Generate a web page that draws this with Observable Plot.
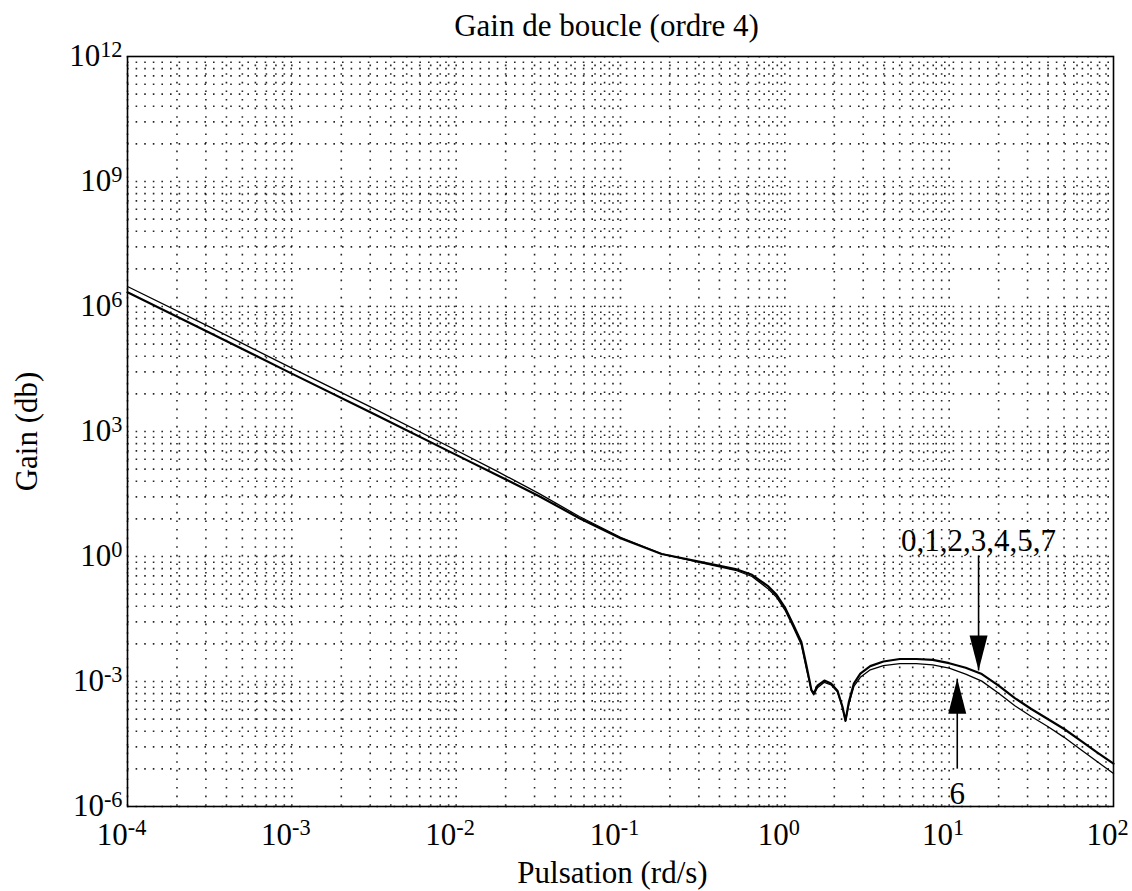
<!DOCTYPE html>
<html><head><meta charset="utf-8">
<script src="https://cdn.jsdelivr.net/npm/d3@7"></script>
<script src="https://cdn.jsdelivr.net/npm/@observablehq/plot@0.6"></script>
<style>body{margin:0;background:#fff}</style>
</head><body><div id="chart"></div>
<script>
// ---- data ----
const pulsation = [1e-4, 3.16e-4, 1e-3, 3.16e-3, 1e-2, 1.78e-2, 3.16e-2, 5.62e-2, 0.1, 0.178,
  0.316, 0.501, 0.631, 0.794, 0.891, 1, 1.12, 1.26, 1.35, 1.45,
  1.50, 1.58, 1.74, 1.91, 2.09, 2.24, 2.34, 2.45, 2.63, 2.88,
  3.31, 3.98, 5.01, 6.31, 7.94, 10, 12.6, 15.8, 20.0, 25.1,
  31.6, 39.8, 50.1, 63.1, 79.4, 100];
const gain_0123457 = [2.19e6, 2.34e5, 2.45e4, 2.63e3, 275, 89.1, 28.8, 8.32, 2.75, 1.15,
  0.724, 0.501, 0.363, 0.191, 0.120, 0.0603, 0.0240, 8.91e-3, 2.51e-3, 6.31e-4,
  5.13e-4, 7.94e-4, 1.05e-3, 8.91e-4, 6.03e-4, 2.51e-4, 1.15e-4, 3.16e-4, 8.91e-4, 1.55e-3,
  2.34e-3, 3.02e-3, 3.47e-3, 3.47e-3, 3.31e-3, 2.75e-3, 2.14e-3, 1.51e-3, 7.94e-4, 3.98e-4,
  2.19e-4, 1.26e-4, 7.24e-5, 3.80e-5, 2.00e-5, 1.07e-5];
const gain_6 = [3.02e6, 3.24e5, 3.31e4, 3.55e3, 355, 110, 33.1, 9.12, 2.88, 1.15,
  0.692, 0.468, 0.331, 0.166, 0.105, 0.0525, 0.0209, 7.59e-3, 2.09e-3, 6.03e-4,
  4.79e-4, 7.08e-4, 9.55e-4, 8.32e-4, 5.62e-4, 2.40e-4, 1.10e-4, 2.82e-4, 7.59e-4, 1.26e-3,
  1.91e-3, 2.40e-3, 2.69e-3, 2.69e-3, 2.51e-3, 2.09e-3, 1.51e-3, 1.02e-3, 5.25e-4, 2.63e-4,
  1.45e-4, 8.32e-5, 4.57e-5, 2.34e-5, 1.20e-5, 6.17e-6];

const xTicks = [1e-4, 1e-3, 1e-2, 1e-1, 1e0, 1e1, 1e2];
const yTicks = [1e-6, 1e-3, 1e0, 1e3, 1e6, 1e9, 1e12];
const xTickLabels = ["10^-4", "10^-3", "10^-2", "10^-1", "10^0", "10^1", "10^2"];
const yTickLabels = ["10^-6", "10^-3", "10^0", "10^3", "10^6", "10^9", "10^12"];

const title = "Gain de boucle (ordre 4)";
const xLabel = "Pulsation (rd/s)";
const yLabel = "Gain (db)";

const annotLabels = ["0,1,2,3,4,5,7", "6"];
const annotX = [15.1, 11.2];
const annotTip = [1.84e-3, 1.17e-3];
const annotTail = [1.06, 8.1e-6];
const annotText = [1.39, 3.8e-6];

// ---- tables ----
const lines = [
  ...pulsation.map((w, i) => ({w, g: gain_6[i], s: "6"})),
  ...pulsation.map((w, i) => ({w, g: gain_0123457[i], s: "0,1,2,3,4,5,7"}))
];
const annots = annotLabels.map((t, i) => ({t, x: annotX[i], tip: annotTip[i], tail: annotTail[i], ty: annotText[i]}));

// grid: x decades with minor 2..9; y bands of three decades with log-spaced minors
const xGrid = [];
for (let i = 0; i < xTicks.length - 1; i++) for (let m = 1; m <= 9; m++) xGrid.push(xTicks[i] * m);
const yGrid = [];
for (let i = 0; i < yTicks.length - 1; i++) for (let m = 1; m <= 9; m++) yGrid.push(yTicks[i] * m * m * m);

const headDown = {draw(ctx) { ctx.moveTo(0, 0); ctx.lineTo(-9, -35); ctx.lineTo(9, -35); ctx.closePath(); }};
const headUp = {draw(ctx) { ctx.moveTo(0, 0); ctx.lineTo(-9, 35); ctx.lineTo(9, 35); ctx.closePath(); }};

const fontFamily = "'Liberation Serif', 'Times New Roman', serif";

const svg = Plot.plot({
  width: 1132,
  height: 891,
  marginLeft: 127,
  marginRight: 19,
  marginTop: 56,
  marginBottom: 85,
  style: {fontFamily, fontSize: "31px", background: "white", color: "black"},
  x: {type: "log", domain: [1e-4, 1e2]},
  y: {type: "log", domain: [1e-6, 1e12]},
  marks: [
    Plot.ruleX(xGrid, {stroke: "black", strokeWidth: 1.6, strokeDasharray: "1.6,7", strokeOpacity: 0.85}),
    Plot.ruleY(yGrid, {stroke: "black", strokeWidth: 1.6, strokeDasharray: "1.6,7", strokeOpacity: 0.85}),
    Plot.axisX({ticks: xTicks, tickSize: 0, tickPadding: 16, label: null, fontSize: 31, dx: -6,
      tickFormat: d => xTickLabels[xTicks.indexOf(d)]}),
    Plot.axisY({ticks: yTicks, tickSize: 0, tickPadding: 5, label: null, fontSize: 31,
      tickFormat: d => yTickLabels[yTicks.indexOf(d)]}),
    Plot.line(lines.filter(d => d.s === "6"), {x: "w", y: "g", stroke: "black", strokeWidth: 1.3}),
    Plot.line(lines.filter(d => d.s !== "6"), {x: "w", y: "g", stroke: "black", strokeWidth: 2.2}),
    Plot.frame({stroke: "black", strokeWidth: 1.6}),
    Plot.link(annots, {x1: "x", x2: "x", y1: "tail", y2: "tip", stroke: "black", strokeWidth: 1.6}),
    Plot.dot(annots.slice(0, 1), {x: "x", y: "tip", symbol: headDown, fill: "black", stroke: "none"}),
    Plot.dot(annots.slice(1), {x: "x", y: "tip", symbol: headUp, fill: "black", stroke: "none"}),
    Plot.text(annots.slice(0, 1), {x: "x", y: "ty", text: "t", lineAnchor: "bottom", fontSize: 31, fill: "black"}),
    Plot.text(annots.slice(1), {x: "x", y: "ty", text: "t", lineAnchor: "top", fontSize: 31, fill: "black"}),
    Plot.text([title], {frameAnchor: "top", lineAnchor: "middle", textAnchor: "middle", dx: -14, dy: -30, fontSize: 31, fill: "black"}),
    Plot.text([xLabel], {frameAnchor: "bottom", lineAnchor: "middle", textAnchor: "middle", dx: -8, dy: 67, fontSize: 31, fill: "black"}),
    Plot.text([yLabel], {frameAnchor: "left", lineAnchor: "middle", textAnchor: "middle", dx: -100, rotate: -90, fontSize: 31, fill: "black"})
  ]
});

// render tick labels "10^k" with a real superscript
svg.querySelectorAll('[aria-label="x-axis tick label"] text, [aria-label="y-axis tick label"] text').forEach(t => {
  const s = t.textContent;
  const k = s.indexOf("^");
  if (k < 0) return;
  t.textContent = "";
  const base = document.createElementNS("http://www.w3.org/2000/svg", "tspan");
  base.textContent = s.slice(0, k);
  const sup = document.createElementNS("http://www.w3.org/2000/svg", "tspan");
  sup.setAttribute("dy", "-0.42em");
  sup.setAttribute("font-size", "0.72em");
  sup.textContent = s.slice(k + 1);
  t.appendChild(base);
  t.appendChild(sup);
});

document.getElementById("chart").appendChild(svg);
</script>
</body></html>
